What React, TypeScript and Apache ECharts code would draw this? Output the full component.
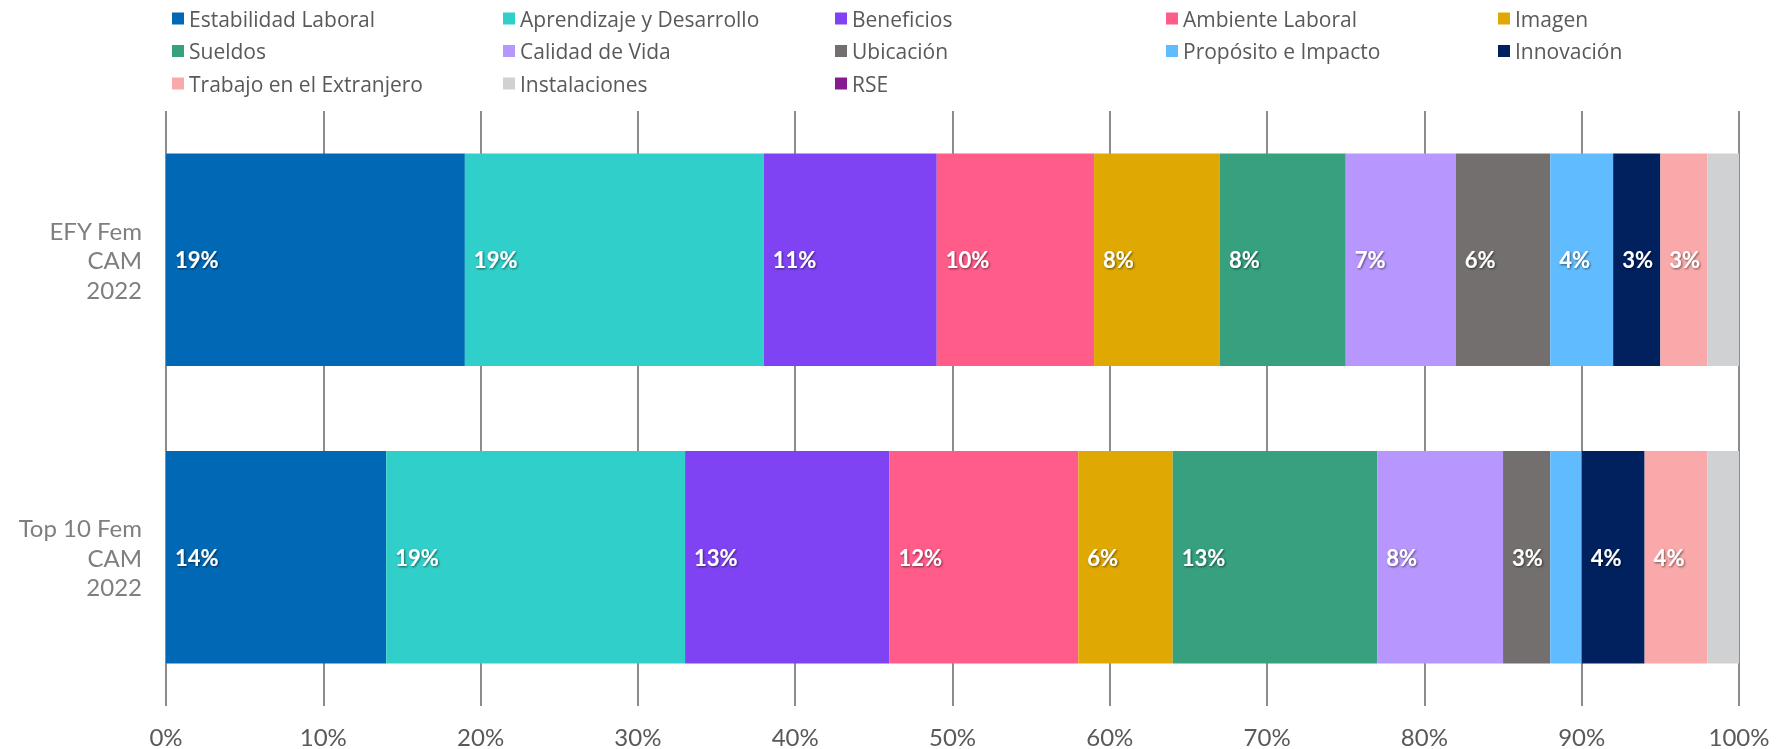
import React, { useEffect, useRef } from "react";
import * as echarts from "echarts";

const categories = ["EFY Fem\nCAM\n2022", "Top 10 Fem\nCAM\n2022"];
const seriesNames = [
  "Estabilidad Laboral",
  "Aprendizaje y Desarrollo",
  "Beneficios",
  "Ambiente Laboral",
  "Imagen",
  "Sueldos",
  "Calidad de Vida",
  "Ubicación",
  "Propósito e Impacto",
  "Innovación",
  "Trabajo en el Extranjero",
  "Instalaciones",
  "RSE",
];
const efyValues = [19, 19, 11, 10, 8, 8, 7, 6, 4, 3, 3, 2, 0];
const top10Values = [14, 19, 13, 12, 6, 13, 8, 3, 2, 4, 4, 2, 0];
const colors = [
  "#0068B5",
  "#31CFCA",
  "#7F43F3",
  "#FF5C8A",
  "#DFA803",
  "#36A07F",
  "#B796FE",
  "#736F6E",
  "#61BCFF",
  "#00205E",
  "#FAA9AA",
  "#D0D1D3",
  "#861A8F",
];

const legendColumnsLeft = [172, 503, 835, 1166, 1498];

export default function App() {
  const ref = useRef<HTMLDivElement>(null);

  useEffect(() => {
    if (!ref.current) return;
    const chart = echarts.init(ref.current, null, { renderer: "svg" });

    const legends = legendColumnsLeft.map((left, col) => ({
      orient: "vertical" as const,
      left,
      top: 8,
      padding: 0,
      itemWidth: 12,
      itemHeight: 12,
      itemGap: 11.5,
      icon: "rect",
      selectedMode: false,
      data: seriesNames.filter((_, i) => i % 5 === col),
      textStyle: {
        fontFamily: "Open Sans",
        fontSize: 21,
        lineHeight: 20,
        color: "#595959",
      },
    }));

    const series = seriesNames.map((name, i) => ({
      name,
      type: "bar" as const,
      stack: "total",
      barCategoryGap: "28.6%",
      itemStyle: { color: colors[i] },
      label: {
        position: "insideLeft" as const,
        distance: 9,
        color: "#ffffff",
        fontFamily: "Lato",
        fontWeight: "bold" as const,
        fontSize: 22,
        formatter: "{c}%",
        textShadowColor: "rgba(0,0,0,0.55)",
        textShadowBlur: 2,
        textShadowOffsetX: 1,
        textShadowOffsetY: 1,
      },
      data: [efyValues[i], top10Values[i]].map((v) => ({
        value: v,
        label: { show: v >= 3 },
      })),
    }));

    chart.setOption({
      animation: false,
      color: colors,
      legend: legends,
      grid: { left: 166, right: 38, top: 111, bottom: 43, containLabel: false },
      xAxis: {
        type: "value",
        min: 0,
        max: 100,
        interval: 10,
        axisLine: { show: false },
        axisTick: { show: false },
        splitLine: { show: true, lineStyle: { color: "#8c8c8c", width: 2 } },
        axisLabel: {
          formatter: "{value}%",
          fontFamily: "Lato",
          fontSize: 24,
          lineHeight: 24,
          color: "#595959",
          margin: 18,
        },
      },
      yAxis: {
        type: "category",
        inverse: true,
        data: categories,
        axisLine: { show: false },
        axisTick: { show: false },
        axisLabel: {
          fontFamily: "Lato",
          fontSize: 24,
          lineHeight: 29.5,
          color: "#7f7f7f",
          align: "right",
          margin: 24,
        },
      },
      series,
    });

    return () => chart.dispose();
  }, []);

  return (
    <div
      ref={ref}
      style={{ position: "fixed", left: 0, top: 0, width: "1777px", height: "749px" }}
    />
  );
}
